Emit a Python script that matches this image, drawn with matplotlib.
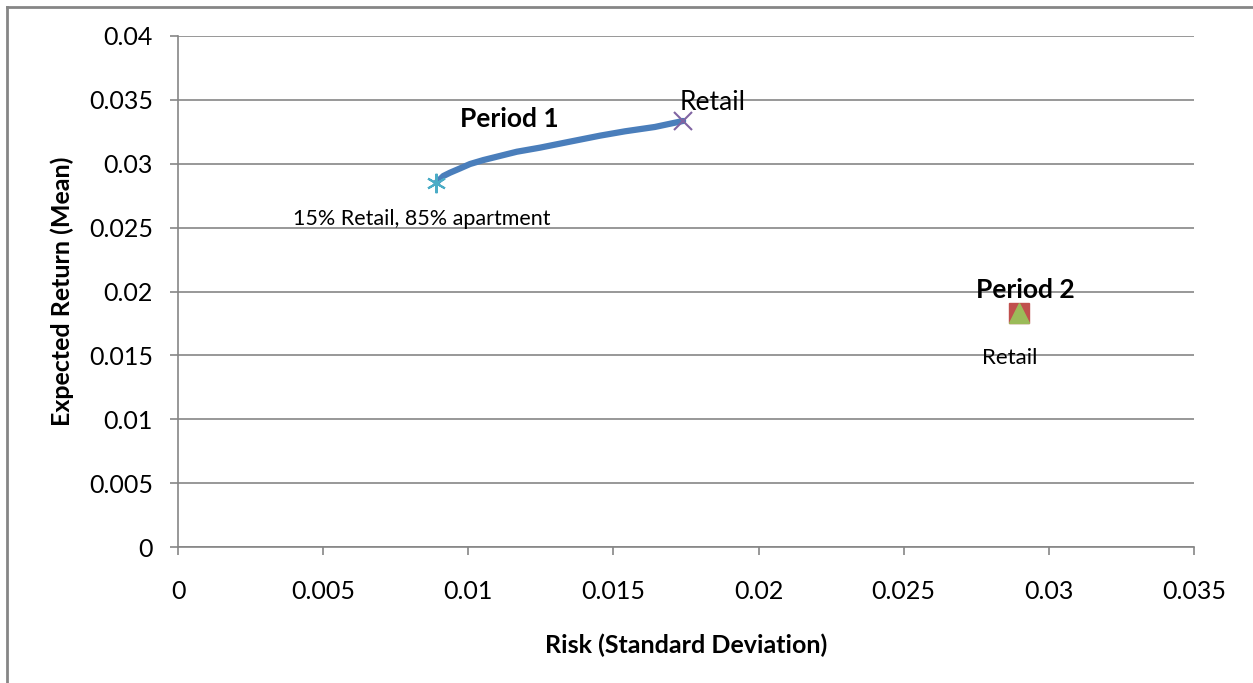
import matplotlib
matplotlib.use("Agg")
import matplotlib.pyplot as plt

plt.rcParams['font.family'] = ['Lato', 'DejaVu Sans']

# efficient frontier, period 1 (risk, mean return)
p1_risk = [0.00890, 0.00914, 0.00937, 0.00972, 0.01006, 0.01052, 0.01098,
           0.01167, 0.01247, 0.01350, 0.01454, 0.01540, 0.01643, 0.01740]
p1_ret = [0.02852, 0.02904, 0.02930, 0.02964, 0.02998, 0.03029, 0.03055,
          0.03094, 0.03126, 0.03173, 0.03220, 0.03254, 0.03288, 0.03335]

# period 2 single portfolio
p2_risk = [0.02897]
p2_ret = [0.01832]

xticks = [0, 0.005, 0.01, 0.015, 0.02, 0.025, 0.03, 0.035]
yticks = [0, 0.005, 0.01, 0.015, 0.02, 0.025, 0.03, 0.035, 0.04]

grey = '#868686'

fig = plt.figure(figsize=(12.53, 6.83), dpi=100)
ax = fig.add_axes([0.1421, 0.1991, 0.8108, 0.7482])

ax.plot(p1_risk, p1_ret, color='#4A7EBB', lw=4.5, solid_capstyle='round',
        solid_joinstyle='round', zorder=3)
ax.plot(p1_risk[0], p1_ret[0], marker=(6, 2, 0), color='#4BACC6', ms=14, mew=1.5, zorder=4)
ax.plot(p1_risk[-1], p1_ret[-1], marker='x', color='#8064A2', ms=13, mew=1.5, zorder=4)

ax.plot(p2_risk, p2_ret, marker='s', color='#C0504D', ms=14, ls='none', zorder=4)
ax.plot(p2_risk, p2_ret, marker='^', color='#9BBB59', ms=15, ls='none', zorder=5)

ax.text(0.01140, 0.0335, 'Period 1', fontsize=19, fontweight='bold', ha='center', va='center')
ax.text(0.01729, 0.03476, 'Retail', fontsize=19, ha='left', va='center')
ax.text(0.00841, 0.02568, '15% Retail, 85% apartment', fontsize=15.5, ha='center', va='center')
ax.text(0.02918, 0.02012, 'Period 2', fontsize=19, fontweight='bold', ha='center', va='center')
ax.text(0.02866, 0.01479, 'Retail', fontsize=16, ha='center', va='center')

ax.set_xlim(0, 0.035)
ax.set_ylim(0, 0.04)
ax.set_xticks(xticks)
ax.set_yticks(yticks)
ax.set_xticklabels(['0', '0.005', '0.01', '0.015', '0.02', '0.025', '0.03', '0.035'])
ax.set_yticklabels(['0', '0.005', '0.01', '0.015', '0.02', '0.025', '0.03', '0.035', '0.04'])
ax.tick_params(labelsize=18, color=grey, length=6, width=1.2)
ax.tick_params(axis='y', pad=12)
ax.tick_params(axis='x', pad=18)

ax.grid(axis='y', color=grey, lw=1.2)
ax.set_axisbelow(True)
for s in ['top', 'right']:
    ax.spines[s].set_visible(False)
for s in ['left', 'bottom']:
    ax.spines[s].set_color(grey)
    ax.spines[s].set_linewidth(1.2)

ax.set_xlabel('Risk (Standard Deviation)', fontsize=18, fontweight='bold', labelpad=22)
ax.set_ylabel('Expected Return (Mean)', fontsize=18, fontweight='bold', labelpad=11)

# chart frame: left and top edges
fig.add_artist(plt.Line2D([0.0055, 0.0055], [0, 0.99], color=grey, lw=2, transform=fig.transFigure))
fig.add_artist(plt.Line2D([0.0055, 1], [0.99, 0.99], color=grey, lw=2, transform=fig.transFigure))

fig.savefig('out.png', dpi=100)
